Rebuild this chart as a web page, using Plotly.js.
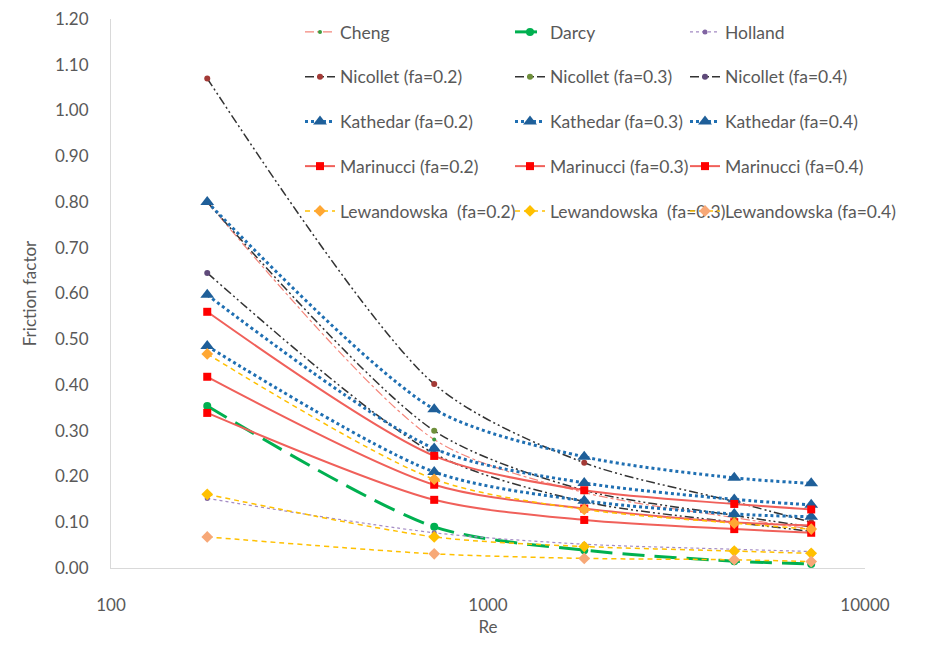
<!DOCTYPE html>
<html>
<head>
<meta charset="utf-8">
<script src="https://cdn.plot.ly/plotly-3.0.1.min.js"></script>
<style>html,body{margin:0;padding:0;background:#fff;}#chart{width:942px;height:667px;}</style>
</head>
<body>
<div id="chart"></div>
<script>
// Reynolds numbers (x)
const re = [180, 720, 1800, 4500, 7200];

// Friction factor series
const cheng   = [0.800, 0.281, 0.165, 0.110, 0.085];
const darcy   = [0.354, 0.090, 0.039, 0.015, 0.009];
const holland = [0.152, 0.077, 0.052, 0.041, 0.036];
const nic02 = [1.070, 0.402, 0.230, 0.145, 0.100];
const nic03 = [0.800, 0.300, 0.170, 0.115, 0.090];
const nic04 = [0.645, 0.250, 0.145, 0.100, 0.080];
const kat02 = [0.800, 0.347, 0.243, 0.197, 0.185];
const kat03 = [0.597, 0.261, 0.186, 0.150, 0.138];
const kat04 = [0.485, 0.210, 0.147, 0.118, 0.112];
const mar02 = [0.560, 0.245, 0.170, 0.140, 0.128];
const mar03 = [0.418, 0.182, 0.130, 0.100, 0.093];
const mar04 = [0.339, 0.149, 0.105, 0.085, 0.077];
const lew02 = [0.468, 0.194, 0.128, 0.098, 0.085];
const lew03 = [0.161, 0.068, 0.047, 0.037, 0.032];
const lew04 = [0.068, 0.031, 0.021, 0.018, 0.014];

const yTicks = [0, 0.1, 0.2, 0.3, 0.4, 0.5, 0.6, 0.7, 0.8, 0.9, 1.0, 1.1, 1.2];
const xTickVals = [100, 1000, 10000];
const xTickText = ['100', '1000', '10000'];

function tr(name, y, line, marker, legend) {
  return {
    x: re, y: y, name: name, type: 'scatter', mode: 'lines+markers',
    line: Object.assign({shape: 'spline', smoothing: 0.8}, line),
    marker: marker, legend: legend, legendgroup: name
  };
}
const nicLine = {color: '#333333', width: 1.5, dash: '9px,3px,2px,3px,2px,3px'};
const katLine = {color: '#1F6FB2', width: 3, dash: 'dot'};
const marLine = {color: '#F0605A', width: 2};
const lewLine = {color: '#FFC000', width: 1.5, dash: '5px,4px'};

const data = [
  tr('Cheng', cheng, {color: '#F4877C', width: 1.2, dash: 'dashdot'}, {symbol: 'circle', size: 4, color: '#3E9B3E'}, 'legend'),
  tr('Darcy', darcy, {color: '#00B050', width: 3, dash: '22px,10px'}, {symbol: 'circle', size: 8, color: '#00B050'}, 'legend2'),
  tr('Holland', holland, {color: '#A48BC4', width: 1.2, dash: 'dot'}, {symbol: 'circle', size: 5, color: '#8064A2'}, 'legend3'),
  tr('Nicollet (fa=0.2)', nic02, nicLine, {symbol: 'circle', size: 6, color: '#A33A36'}, 'legend'),
  tr('Nicollet (fa=0.3)', nic03, nicLine, {symbol: 'circle', size: 6, color: '#6E8F3A'}, 'legend2'),
  tr('Nicollet (fa=0.4)', nic04, nicLine, {symbol: 'circle', size: 6, color: '#5F4A7A'}, 'legend3'),
  tr('Kathedar (fa=0.2)', kat02, katLine, {symbol: 'triangle-up', size: 12, color: '#1F5F99'}, 'legend'),
  tr('Kathedar (fa=0.3)', kat03, katLine, {symbol: 'triangle-up', size: 12, color: '#1F5F99'}, 'legend2'),
  tr('Kathedar (fa=0.4)', kat04, katLine, {symbol: 'triangle-up', size: 12, color: '#1F5F99'}, 'legend3'),
  tr('Marinucci (fa=0.2)', mar02, marLine, {symbol: 'square', size: 8, color: '#FF0000'}, 'legend'),
  tr('Marinucci (fa=0.3)', mar03, marLine, {symbol: 'square', size: 8, color: '#FF0000'}, 'legend2'),
  tr('Marinucci (fa=0.4)', mar04, marLine, {symbol: 'square', size: 8, color: '#FF0000'}, 'legend3'),
  tr('Lewandowska  (fa=0.2)', lew02, lewLine, {symbol: 'diamond', size: 9, color: '#FFA733'}, 'legend'),
  tr('Lewandowska  (fa=0.3)', lew03, lewLine, {symbol: 'diamond', size: 9, color: '#FFC000'}, 'legend2'),
  tr('Lewandowska (fa=0.4)', lew04, lewLine, {symbol: 'diamond', size: 9, color: '#F7A877'}, 'legend3')
];

const fontFam = 'Lato, "Open Sans", sans-serif';
const legFont = {family: fontFam, size: 17.5, color: '#595959'};
// plot area: x 111..865 px, y 19..568 px
function leg(xpx) {
  return {
    xref: 'paper', yref: 'paper', x: (xpx - 111) / 754, y: 1 + 5 / 549,
    xanchor: 'left', yanchor: 'top', bgcolor: 'rgba(0,0,0,0)',
    font: legFont, tracegroupgap: 19, itemwidth: 30, traceorder: 'grouped'
  };
}

const layout = {
  width: 942, height: 667,
  paper_bgcolor: '#ffffff', plot_bgcolor: '#ffffff',
  margin: {l: 111, r: 77, t: 19, b: 99},
  font: {family: fontFam, color: '#595959'},
  showlegend: true,
  legend: leg(300),
  legend2: leg(510),
  legend3: leg(685),
  xaxis: {
    type: 'log', range: [2, 4],
    tickvals: xTickVals, ticktext: xTickText,
    showgrid: false, zeroline: false,
    showline: true, linecolor: '#D9D9D9', linewidth: 1,
    ticks: '', ticklabelstandoff: 22,
    tickfont: {family: fontFam, size: 17, color: '#595959'},
    title: {text: 'Re', font: {family: fontFam, size: 17, color: '#595959'}, standoff: 6}
  },
  yaxis: {
    range: [0, 1.2], tickvals: yTicks, tickformat: '.2f',
    showgrid: false, zeroline: false,
    showline: true, linecolor: '#D9D9D9', linewidth: 1,
    ticks: '', ticklabelstandoff: 18,
    tickfont: {family: fontFam, size: 17, color: '#595959'},
    title: {text: 'Friction factor', font: {family: fontFam, size: 17, color: '#595959'}, standoff: 14}
  }
};

Plotly.newPlot('chart', data, layout, {displayModeBar: false, staticPlot: true});
</script>
</body>
</html>
